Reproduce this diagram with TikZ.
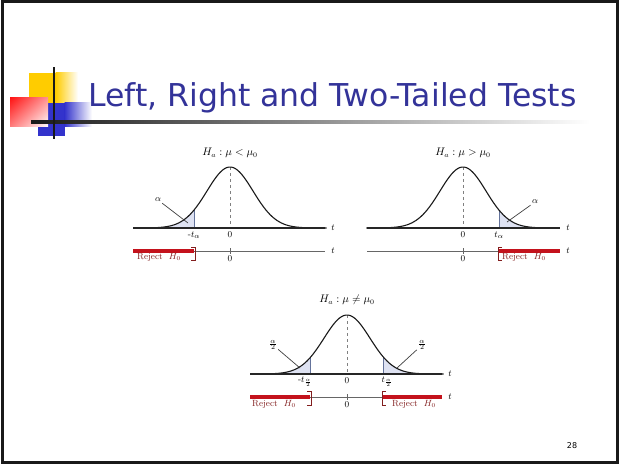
\documentclass[tikz,border=0pt]{standalone}
\usepackage{fontspec}
\usetikzlibrary{shadings}
\newfontfamily\titlefont{DejaVu Sans}
\definecolor{titleblue}{RGB}{51,51,153}
\definecolor{sqyellow}{RGB}{255,204,0}
\definecolor{sqblue}{RGB}{51,51,204}
\definecolor{sqred}{RGB}{255,20,20}
\definecolor{critblue}{RGB}{100,115,155}
\definecolor{shadefill}{RGB}{222,226,242}
\definecolor{rejred}{RGB}{196,18,28}
\definecolor{rejtext}{RGB}{130,30,30}
\begin{document}
\begin{tikzpicture}[x=1pt,y=-1pt,
  axis/.style={line width=1.1pt, black!85},
  axisb/.style={line width=0.8pt, black!60},
  curve/.style={line width=1.1pt, black!90},
  crit/.style={line width=0.7pt, critblue},
  shadereg/.style={fill=shadefill},
  ptr/.style={line width=0.7pt, black!75, shorten <=1pt},
  dashz/.style={dashed, black!50, line width=0.6pt},
  rejbar/.style={line width=3.6pt, rejred},
  brk/.style={line width=0.6pt, rejtext},
  lbl/.style={font=\fontsize{9.5}{11}\selectfont, inner sep=0.5pt},
  ttl/.style={font=\fontsize{10.5}{12}\selectfont, inner sep=0pt},
  rejlbl/.style={font=\fontsize{9}{10}\selectfont, text=rejtext, inner sep=0pt},
  tickz/.style={line width=0.6pt, black!60},
]
\useasboundingbox (0,0) rectangle (621,465);
\fill[white] (0,0) rectangle (621,465);
% frame
\draw[line width=2.6pt, black!90] (2.3,1.3) rectangle (617.7,462.7);

% corner decoration
\fill[sqyellow] (29,73) rectangle (56,103);
\shade[left color=sqyellow, right color=white] (55.5,73) rectangle (78,103);
\fill[sqblue] (38,103) rectangle (65,136);
\shade[left color=sqblue, right color=white] (64.5,103) rectangle (92,127);
\shade[upper left=sqred, lower right=white, upper right=sqred!45!white, lower left=sqred!55!white] (10,98) rectangle (48,127);
\shade[left color=black!90, right color=white] (31,121) rectangle (590,123.2);
\fill[black!90] (53,67) rectangle (55.2,139);

% title
\node[anchor=base west, text=titleblue, inner sep=0pt, font=\titlefont\fontsize{31.5}{36}\selectfont] (title) at (88,107)
  {Left, Right and Two-Tailed Tests};

% ---------- Graph 1: left-tailed ----------
\begin{scope}[shift={(230,228)}]
  \fill[shadereg] plot[domain=-4.2:-1.565,samples=40] ({23*\x},{-61*exp(-\x*\x/2)}) -- (-36,0) -- cycle;
  \draw[crit] (-36,0) -- (-36,{-61*exp(-(1.565*1.565)/2)});
  \draw[dashz] (0,-61) -- (0,0);
  \draw[curve] plot[domain=-4.2:4.2,samples=90] ({23*\x},{-61*exp(-\x*\x/2)});
\end{scope}
\draw[axis] (133,228) -- (325,228);
\node[ttl] (g1title) at (230,153) {$H_a : \mu < \mu_0$};
\node[lbl] (g1alpha) at (158,200) {$\alpha$};
\coordinate (g1tip) at (188,223);
\draw[ptr] (g1alpha) -- (g1tip);
\node[lbl] (g1crit) at (194,235) {-$t_\alpha$};
\node[lbl] (g1zero) at (230,235) {$0$};
\node[lbl] (g1t) at (333,228) {$t$};
\coordinate (g1a) at (133,251);
\coordinate (g1b) at (325,251);
\coordinate (g1c) at (194,251);
\draw[axisb] (g1a) -- (g1b);
\draw[tickz] (230,248) -- (230,254);
\draw[rejbar] (g1a) -- (g1c);
\draw[brk] (191,247.5) -- (195,247.5) -- (195,260) -- (191,260);
\node[lbl] (g1t2) at (333,251) {$t$};
\node[lbl] (g1zero2) at (230,258.5) {$0$};
\node[rejlbl] (g1rej) at (159,257.5) {Reject \ $H_0$};

% ---------- Graph 2: right-tailed ----------
\begin{scope}[shift={(463,228)}]
  \fill[shadereg] (36,0) -- plot[domain=1.565:4.2,samples=40] ({23*\x},{-61*exp(-\x*\x/2)}) -- cycle;
  \draw[crit] (36,0) -- (36,{-61*exp(-(1.565*1.565)/2)});
  \draw[dashz] (0,-61) -- (0,0);
  \draw[curve] plot[domain=-4.2:4.2,samples=90] ({23*\x},{-61*exp(-\x*\x/2)});
\end{scope}
\draw[axis] (367,228) -- (560,228);
\node[ttl] (g2title) at (463,153) {$H_a : \mu > \mu_0$};
\node[lbl] (g2alpha) at (535,202) {$\alpha$};
\coordinate (g2tip) at (507,222);
\draw[ptr] (g2alpha) -- (g2tip);
\node[lbl] (g2crit) at (499,235) {$t_\alpha$};
\node[lbl] (g2zero) at (463,235) {$0$};
\node[lbl] (g2t) at (568,228) {$t$};
\coordinate (g2a) at (367,251);
\coordinate (g2b) at (560,251);
\coordinate (g2c) at (499,251);
\draw[axisb] (g2a) -- (g2b);
\draw[tickz] (463,248) -- (463,254);
\draw[rejbar] (g2c) -- (g2b);
\draw[brk] (502,247.5) -- (498,247.5) -- (498,260) -- (502,260);
\node[lbl] (g2t2) at (568,251) {$t$};
\node[lbl] (g2zero2) at (463,258.5) {$0$};
\node[rejlbl] (g2rej) at (524,257.5) {Reject \ $H_0$};

% ---------- Graph 3: two-tailed ----------
\begin{scope}[shift={(347,374)}]
  \fill[shadereg] plot[domain=-4.2:-1.587,samples=40] ({23*\x},{-59*exp(-\x*\x/2)}) -- (-36.5,0) -- cycle;
  \fill[shadereg] (36.5,0) -- plot[domain=1.587:4.2,samples=40] ({23*\x},{-59*exp(-\x*\x/2)}) -- cycle;
  \draw[crit] (-36.5,0) -- (-36.5,{-59*exp(-(1.587*1.587)/2)});
  \draw[crit] (36.5,0) -- (36.5,{-59*exp(-(1.587*1.587)/2)});
  \draw[dashz] (0,-59) -- (0,0);
  \draw[curve] plot[domain=-4.2:4.2,samples=90] ({23*\x},{-59*exp(-\x*\x/2)});
\end{scope}
\draw[axis] (250,374) -- (442,374);
\node[ttl] (g3title) at (347,300) {$H_a : \mu \neq \mu_0$};
\node[lbl] (g3alphaL) at (273,345) {$\frac{\alpha}{2}$};
\node[lbl] (g3alphaR) at (422,345) {$\frac{\alpha}{2}$};
\coordinate (g3tipL) at (300,368);
\coordinate (g3tipR) at (397,368);
\draw[ptr] (g3alphaL) -- (g3tipL);
\draw[ptr] (g3alphaR) -- (g3tipR);
\node[lbl] (g3critL) at (305,382) {-$t_{\frac{\alpha}{2}}$};
\node[lbl] (g3zero) at (347,381) {$0$};
\node[lbl] (g3critR) at (387,382) {$t_{\frac{\alpha}{2}}$};
\node[lbl] (g3t) at (450,374) {$t$};
\coordinate (g3a) at (250,397);
\coordinate (g3b) at (442,397);
\coordinate (g3c) at (310,397);
\coordinate (g3d) at (383,397);
\draw[axisb] (g3a) -- (g3b);
\draw[tickz] (347,394) -- (347,400);
\draw[rejbar] (g3a) -- (g3c);
\draw[rejbar] (g3d) -- (g3b);
\draw[brk] (307,391) -- (311,391) -- (311,405) -- (307,405);
\draw[brk] (386,391) -- (382,391) -- (382,405) -- (386,405);
\node[lbl] (g3t2) at (450,397) {$t$};
\node[lbl] (g3zero2) at (347,404.5) {$0$};
\node[rejlbl] (g3rejL) at (274,404) {Reject \ $H_0$};
\node[rejlbl] (g3rejR) at (414,404) {Reject \ $H_0$};

% page number
\node[font=\titlefont\fontsize{8}{9}\selectfont, inner sep=0pt] (page) at (572,446) {28};
\end{tikzpicture}
\end{document}
